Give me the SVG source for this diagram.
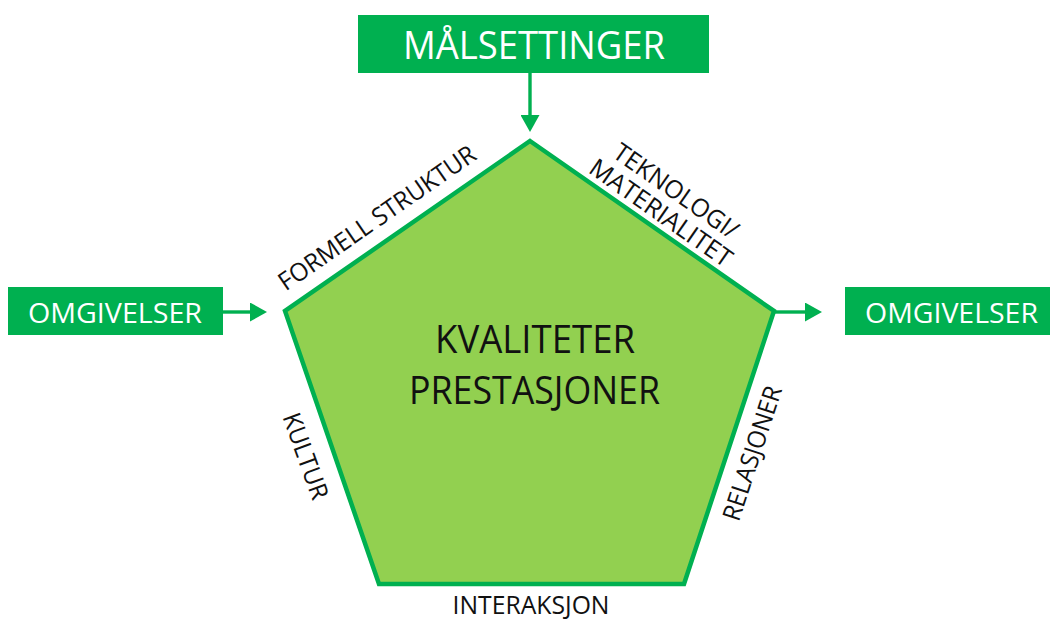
<svg xmlns="http://www.w3.org/2000/svg" width="1050" height="619" viewBox="0 0 1050 619">
  <style>
    .box { fill: #00B050; }
    .box-text { fill: #ffffff; font-family: "Open Sans", "Liberation Sans", sans-serif; text-anchor: middle; }
    .core { fill: #92D050; stroke: #00B050; stroke-width: 4.5; stroke-linejoin: miter; }
    .core-text { fill: #111111; font-family: "Open Sans", "Liberation Sans", sans-serif; font-size: 38px; text-anchor: middle; }
    .edge-label { fill: #111111; font-family: "Open Sans", "Liberation Sans", sans-serif; font-size: 25px; text-anchor: middle; }
    .flow { stroke: #00B050; stroke-width: 3.4; fill: none; }
  </style>
  <defs>
    <marker id="head" markerUnits="userSpaceOnUse" markerWidth="17" markerHeight="19" refX="1" refY="9.5" orient="auto">
      <path d="M0,0 L17,9.5 L0,19 Z" fill="#00B050"/>
    </marker>
  </defs>

  <rect width="1050" height="619" fill="#ffffff"/>

  <!-- input: goals -->
  <g id="malsettinger">
    <rect class="box" x="358" y="15" width="351" height="58"/>
    <text class="box-text" x="534" y="59" font-size="38" textLength="262" lengthAdjust="spacingAndGlyphs">MÅLSETTINGER</text>
  </g>

  <!-- input: environment -->
  <g id="omgivelser-inn">
    <rect class="box" x="8" y="287" width="215" height="48"/>
    <text class="box-text" x="115" y="323" font-size="28" textLength="174" lengthAdjust="spacingAndGlyphs">OMGIVELSER</text>
  </g>

  <!-- output: environment -->
  <g id="omgivelser-ut">
    <rect class="box" x="845" y="287" width="210" height="48"/>
    <text class="box-text" x="951.5" y="323" font-size="28" textLength="173" lengthAdjust="spacingAndGlyphs">OMGIVELSER</text>
  </g>

  <!-- organisation pentagon with its five elements -->
  <g id="organisasjon">
    <polygon class="core" points="530,141 774,311 684,584 379,584 285,311"/>
    <text class="core-text" x="535" y="353" textLength="200" lengthAdjust="spacingAndGlyphs">KVALITETER</text>
    <text class="core-text" x="534.5" y="404" textLength="251" lengthAdjust="spacingAndGlyphs">PRESTASJONER</text>
  </g>

  <g id="formell-struktur">
    <text class="edge-label" transform="translate(382,225) rotate(-34.7)" textLength="234" lengthAdjust="spacingAndGlyphs">FORMELL STRUKTUR</text>
  </g>
  <g id="teknologi">
    <text class="edge-label" transform="translate(671,198) rotate(35)" textLength="146" lengthAdjust="spacingAndGlyphs">TEKNOLOGI/</text>
    <text class="edge-label" transform="translate(656,220) rotate(35)" textLength="168" lengthAdjust="spacingAndGlyphs">MATERIALITET</text>
  </g>
  <g id="kultur">
    <text class="edge-label" transform="translate(297.5,459) rotate(70.1)" textLength="90" lengthAdjust="spacingAndGlyphs">KULTUR</text>
  </g>
  <g id="relasjoner">
    <text class="edge-label" transform="translate(760.5,456) rotate(-71.8)" textLength="140" lengthAdjust="spacingAndGlyphs">RELASJONER</text>
  </g>
  <g id="interaksjon">
    <text class="edge-label" x="531" y="614" textLength="157" lengthAdjust="spacingAndGlyphs">INTERAKSJON</text>
  </g>

  <!-- connectors -->
  <g id="connectors">
    <line class="flow" x1="530" y1="73" x2="530" y2="116" marker-end="url(#head)"/>
    <line class="flow" x1="223" y1="312" x2="251" y2="312" marker-end="url(#head)"/>
    <line class="flow" x1="774" y1="312" x2="806" y2="312" marker-end="url(#head)"/>
  </g>
</svg>
